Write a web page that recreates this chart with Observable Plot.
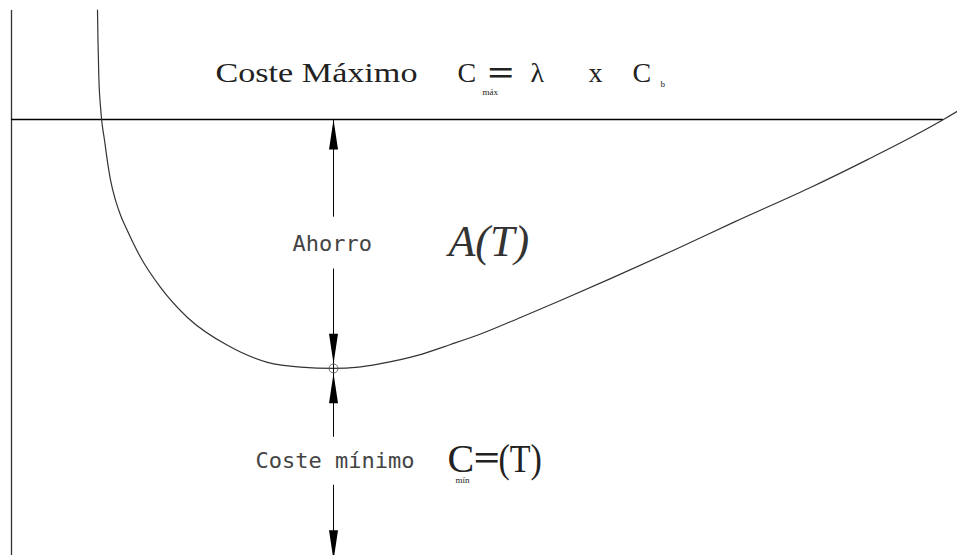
<!DOCTYPE html>
<html>
<head>
<meta charset="utf-8">
<script src="https://cdn.jsdelivr.net/npm/d3@7"></script>
<script src="https://cdn.jsdelivr.net/npm/@observablehq/plot@0.6"></script>
<style>
  html, body { margin: 0; padding: 0; background: #fff; overflow: hidden; }
  #chart svg { display: block; }
</style>
</head>
<body>
<div id="chart"></div>
<script>
// Cost curve C(T): period T (x) vs cost (y), Cmax normalised to 100
const curveT    = [9.09, 9.14, 9.23, 9.41, 9.52, 9.83, 10.12, 10.47, 10.99, 11.52, 12.23, 13.64, 15.75, 18.60, 22.83, 27.06, 30.55, 34.04, 36.68, 39.01, 42.92, 46.41, 49.58, 53.81, 58.03, 63.32, 70.40, 76.32, 84.46, 90.49, 95.35, 98.52, 100];
const curveCost = [125.1, 118.3, 109.8, 102.9, 100.1, 95.3, 90.7, 86.1, 81.5, 78.1, 74.6, 68.4, 61.5, 54.6, 48.2, 44.3, 43.2, 42.9, 43.2, 44.0, 45.9, 48.4, 50.8, 54.6, 58.5, 63.5, 70.4, 76.4, 84.4, 90.8, 96.2, 100.0, 101.9];

const costMax = 100;          // Coste Máximo level
const tEnd = 98.52;           // where the Cmax line meets the curve
const axisTop = 125;          // top of the vertical axis
const tMin = 34.04;           // optimum period
const costMin = 42.9;         // minimum cost

// dimension line segments (from, to) along T = tMin
const dimFrom = [100, 65.7, 16.1];
const dimTo   = [77.6, 27.1, 0];

// arrowheads: tip level and direction
const arrowTip = [100, 44.0, 41.8, -1.1];
const arrowDir = ["up", "down", "up", "down"];

// labels
const sansLabels = ["Ahorro", "Coste mínimo"];
const sansT      = [29.70, 25.79];
const sansCost   = [71.5, 21.6];

const titleText = ["Coste Máximo"];
const titleT = [21.56];
const titleCost = [110.6];

const formulaText = ["C", "λ", "x", "C", "C"];
const formulaT    = [47.15, 54.86, 61.0, 65.64, 46.09];
const formulaCost = [110.6, 110.6, 110.6, 110.6, 22.2];
const formulaSize = [28, 28, 28, 28, 40];

const eqText = ["=", "="];
const eqT    = [50.32, 48.84];
const eqCost = [110.6, 22.2];

const subText = ["máx", "b", "mín"];
const subT    = [49.79, 68.6, 46.93];
const subCost = [106.2, 108.2, 17.3];

const parenText = ["(T)"];
const parenT = [51.48];
const parenCost = [22.2];

const italText = ["A(T)"];
const italT = [46.19];
const italCost = [71.9];

const curve = curveT.map((x, i) => ({x, y: curveCost[i]}));
const dims = dimFrom.map((a, i) => ({x: tMin, y1: a, y2: dimTo[i]}));
const arrows = arrowTip.map((y, i) => ({x: tMin, y, dir: arrowDir[i]}));

const AL = 30, AW = 4.5; // arrowhead length & half width (px)
const arrowUp = {draw(ctx) { ctx.moveTo(0, 0); ctx.lineTo(AW, AL); ctx.lineTo(-AW, AL); ctx.closePath(); }};
const arrowDown = {draw(ctx) { ctx.moveTo(0, 0); ctx.lineTo(AW, -AL); ctx.lineTo(-AW, -AL); ctx.closePath(); }};

const serif = "'Liberation Serif', 'Times New Roman', serif";
const cad = "'DejaVu Sans Mono', monospace";
const ink = "#222";

const textMark = (texts, xs, ys, opts, sizes) => Plot.text(texts.map((t, i) => ({t, x: xs[i], y: ys[i], s: sizes ? sizes[i] : null})), {
  x: "x", y: "y", text: "t", textAnchor: "start", lineAnchor: "middle", fill: ink, ...opts,
  ...(sizes ? {fontSize: "s"} : {})
});

const chart = Plot.plot({
  width: 957,
  height: 555,
  marginLeft: 11,
  marginRight: 0,
  marginTop: 10,
  marginBottom: 0,
  x: {domain: [0, 100], axis: null},
  y: {domain: [0, axisTop], axis: null},
  style: {background: "#fff", overflow: "hidden"},
  marks: [
    Plot.ruleX([0], {y1: 0, y2: axisTop, stroke: "#333", strokeWidth: 1.3}),
    Plot.ruleY([costMax], {x1: 0, x2: tEnd, stroke: "#000", strokeWidth: 1.3}),
    Plot.line(curve, {x: "x", y: "y", curve: "monotone-x", stroke: "#333", strokeWidth: 1.2}),
    Plot.ruleX(dims, {x: "x", y1: "y1", y2: "y2", stroke: "#000", strokeWidth: 1}),
    Plot.dot(arrows.filter(d => d.dir === "up"), {x: "x", y: "y", symbol: arrowUp, fill: "#000", stroke: "none"}),
    Plot.dot(arrows.filter(d => d.dir === "down"), {x: "x", y: "y", symbol: arrowDown, fill: "#000", stroke: "none"}),
    Plot.dot([{x: tMin, y: costMin}], {x: "x", y: "y", r: 4.5, stroke: "#666", fill: "none", strokeWidth: 1}),
    textMark(titleText, titleT, titleCost, {fontFamily: serif, fontSize: 28}),
    textMark(formulaText, formulaT, formulaCost, {fontFamily: serif}, formulaSize),
    textMark(eqText, eqT, eqCost, {fontFamily: serif, fontSize: 36, fontWeight: "bold"}),
    textMark(subText, subT, subCost, {fontFamily: serif, fontSize: 9}),
    textMark(parenText, parenT, parenCost, {fontFamily: serif, fontSize: 40}),
    textMark(italText, italT, italCost, {fontFamily: serif, fontSize: 44, fontStyle: "italic", fill: "#333"}),
    textMark(sansLabels, sansT, sansCost, {fontFamily: cad, fontSize: 22, fill: "#444"})
  ]
});

// horizontal stretch of some lettering, as in the original drawing
const stretch = new Map([["Coste Máximo", 1.22], ["=", 1.3], ["(T)", 0.85]]);
d3.select(chart).selectAll("text").each(function () {
  const sx = stretch.get(this.textContent);
  if (sx) {
    const t = this.getAttribute("transform") || "";
    this.setAttribute("transform", t + ` scale(${sx},1)`);
  }
});

document.getElementById("chart").appendChild(chart);
</script>
</body>
</html>
